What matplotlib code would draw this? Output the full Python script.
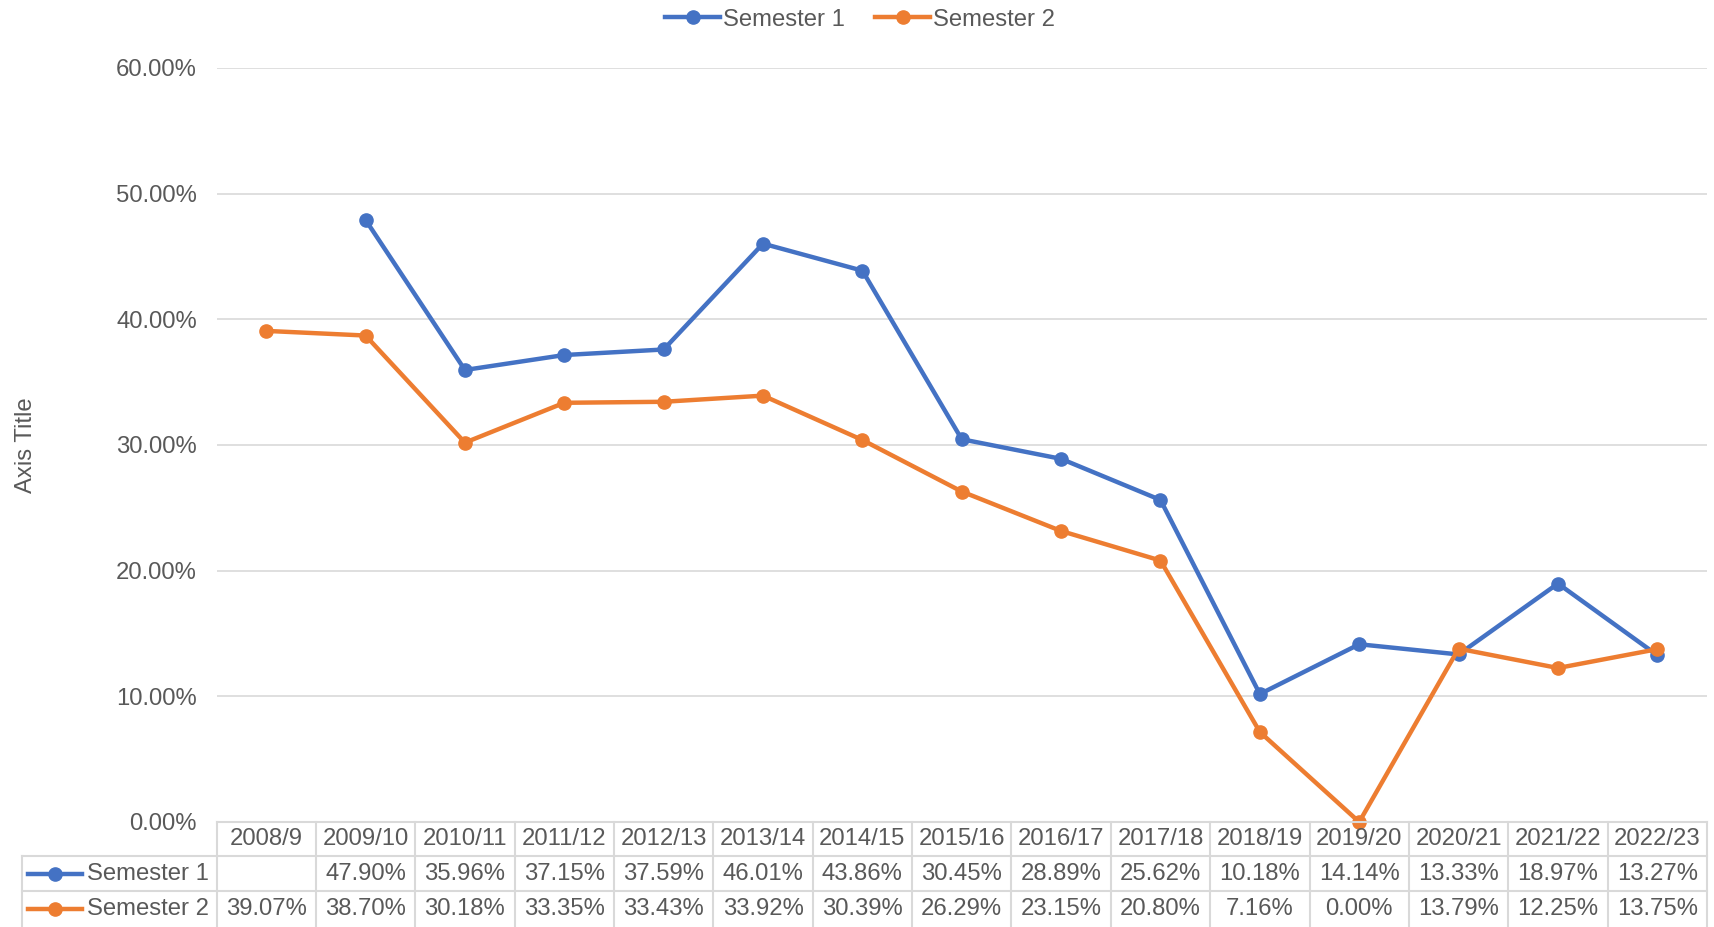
import matplotlib.pyplot as plt
import numpy as np
from matplotlib.lines import Line2D
from matplotlib.transforms import blended_transform_factory

years = ["2008/9", "2009/10", "2010/11", "2011/12", "2012/13", "2013/14", "2014/15",
         "2015/16", "2016/17", "2017/18", "2018/19", "2019/20", "2020/21", "2021/22", "2022/23"]
sem1 = [None, 47.90, 35.96, 37.15, 37.59, 46.01, 43.86, 30.45, 28.89, 25.62, 10.18, 14.14, 13.33, 18.97, 13.27]
sem2 = [39.07, 38.70, 30.18, 33.35, 33.43, 33.92, 30.39, 26.29, 23.15, 20.80, 7.16, 0.00, 13.79, 12.25, 13.75]

BLUE = "#4472C4"
ORANGE = "#ED7D31"
TXT = "#595959"
GRID = "#d9d9d9"

plt.rcParams['font.family'] = ['Liberation Sans', 'DejaVu Sans']
FS = 17.2

W, H = 1714, 927
fig = plt.figure(figsize=(W / 100, H / 100), dpi=100)
left, right, top, bottom = 216.5, 1707, 67.8, 822
ax = fig.add_axes([left / W, (H - bottom) / H, (right - left) / W, (bottom - top) / H])

x = np.arange(len(years))
s1 = np.array([np.nan if v is None else v for v in sem1]) / 100
s2 = np.array(sem2) / 100
ax.plot(x, s1, color=BLUE, lw=3.2, marker='o', ms=9.5, label="Semester 1", zorder=3, clip_on=False)
ax.plot(x, s2, color=ORANGE, lw=3.2, marker='o', ms=9.5, label="Semester 2", zorder=3, clip_on=False)

ax.set_xlim(-0.5, len(years) - 0.5)
ax.set_ylim(0, 0.6)
ax.set_yticks(np.arange(0, 0.61, 0.1))
ax.set_yticklabels([f"{v*100:.2f}%" for v in np.arange(0, 0.61, 0.1)], color=TXT, fontsize=FS)
ax.tick_params(axis='y', length=0, pad=14)
ax.set_xticks([])
ax.grid(axis='y', color=GRID, lw=1.2)
for sp in ax.spines.values():
    sp.set_visible(False)
ax.set_axisbelow(True)

fig.text(26 / W, 1 - 445 / H, "Axis Title", rotation=90, ha='center', va='center', color=TXT, fontsize=FS)

# data table under the plot
tr = blended_transform_factory(ax.transData, fig.transFigure)
def fy(py):
    return 1 - py / H
rows = [822, 856, 891, 927]
xs_edges = np.arange(len(years) + 1) - 0.5
for i, e in enumerate(xs_edges):
    fig.add_artist(Line2D([e, e], [fy(rows[0]), fy(rows[3])], transform=tr, color=GRID, lw=1.5))
fig.add_artist(Line2D([xs_edges[0], xs_edges[-1]], [fy(rows[0])] * 2, transform=tr, color=GRID, lw=1.5))
for r in rows[1:3]:
    fig.add_artist(Line2D([22 / W, right / W], [fy(r)] * 2, transform=fig.transFigure, color=GRID, lw=1.5))
fig.add_artist(Line2D([22 / W, 22 / W], [fy(rows[1]), fy(rows[3])], transform=fig.transFigure, color=GRID, lw=1.5))

for i, yr in enumerate(years):
    fig.text(i, fy((rows[0] + rows[1]) / 2), yr, transform=tr, ha='center', va='center', color=TXT, fontsize=FS)
    if sem1[i] is not None:
        fig.text(i, fy((rows[1] + rows[2]) / 2), f"{sem1[i]:.2f}%", transform=tr, ha='center', va='center', color=TXT, fontsize=FS)
    fig.text(i, fy((rows[2] + rows[3]) / 2), f"{sem2[i]:.2f}%", transform=tr, ha='center', va='center', color=TXT, fontsize=FS)

for j, (name, col) in enumerate([("Semester 1", BLUE), ("Semester 2", ORANGE)]):
    yc = fy((rows[j + 1] + rows[j + 2]) / 2)
    fig.add_artist(Line2D([28 / W, 82 / W], [yc, yc], transform=fig.transFigure, color=col, lw=3.2))
    fig.add_artist(Line2D([55 / W], [yc], transform=fig.transFigure, color=col, marker='o', ms=9.5))
    fig.text(87 / W, yc, name, ha='left', va='center', color=TXT, fontsize=FS)

leg = fig.legend(handles=ax.get_lines(), loc='center', bbox_to_anchor=(860 / W, 1 - 19.5 / H), ncol=2,
                 frameon=False, fontsize=FS, handlelength=2.3, columnspacing=1.3, handletextpad=0.1)
for t in leg.get_texts():
    t.set_color(TXT)

fig.savefig("out.png", dpi=100)
